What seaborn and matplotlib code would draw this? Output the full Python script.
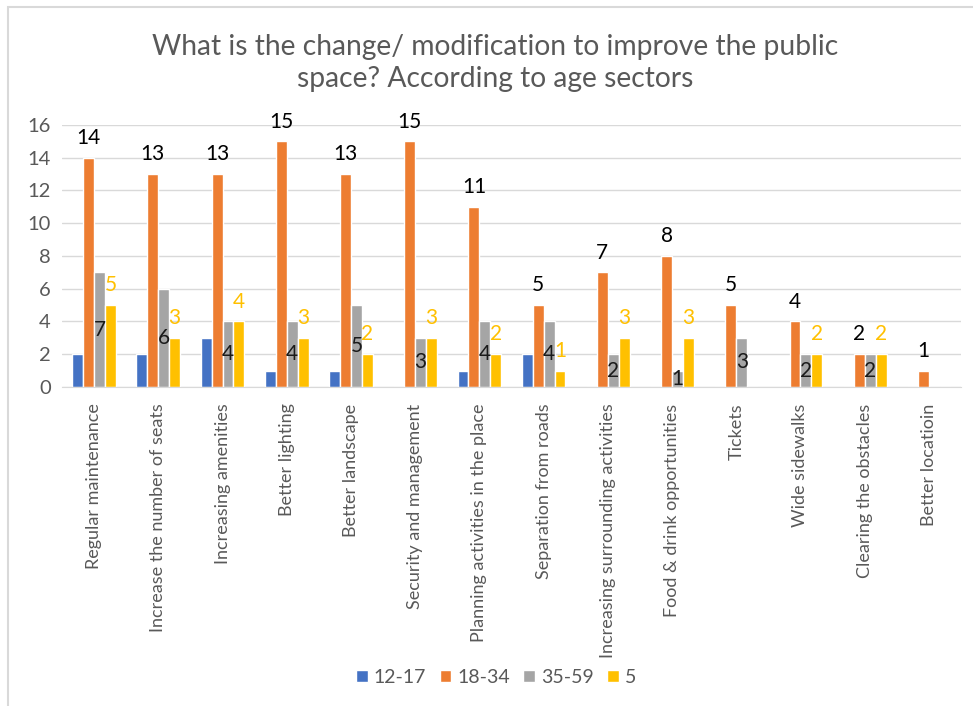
import pandas as pd
import matplotlib.pyplot as plt
import seaborn as sns

# Chart data
categories = ["Regular maintenance", "Increase the number of seats", "Increasing amenities",
              "Better lighting", "Better landscape", "Security and management",
              "Planning activities in the place", "Separation from roads",
              "Increasing surrounding activities", "Food & drink opportunities", "Tickets",
              "Wide sidewalks", "Clearing the obstacles", "Better locatioin"]
age_groups = ["12-17", "18-34", "35-59", "5"]
vals_12_17 = [2, 2, 3, 1, 1, 0, 1, 2, 0, 0, 0, 0, 0, 0]
vals_18_34 = [14, 13, 13, 15, 13, 15, 11, 5, 7, 8, 5, 4, 2, 1]
vals_35_59 = [7, 6, 4, 4, 5, 3, 4, 4, 2, 1, 3, 2, 2, 0]
vals_5 = [5, 3, 4, 3, 2, 3, 2, 1, 3, 3, 0, 2, 2, 0]

colors = ["#4472C4", "#ED7D31", "#A5A5A5", "#FFC000"]

# Long format table for seaborn
rows = []
for grp, vals in zip(age_groups, [vals_12_17, vals_18_34, vals_35_59, vals_5]):
    for cat, v in zip(categories, vals):
        rows.append({"category": cat, "age": grp, "value": v})
df = pd.DataFrame(rows)

sns.set_style("white")
plt.rcParams['font.family'] = ['Lato', 'DejaVu Sans']

fig = plt.figure(figsize=(9.73, 7.06), dpi=100)
ax = fig.add_axes([0.0637, 0.452, 0.924, 0.371])

sns.barplot(data=df, x="category", y="value", hue="age", order=categories,
            hue_order=age_groups, palette=colors, width=0.68, saturation=1,
            gap=0, ax=ax, errorbar=None)

# Data labels
for i, cont in enumerate(ax.containers):
    vals = [b.get_height() for b in cont]
    labels = [f"{v:.0f}" if v > 0 else "" for v in vals]
    if i == 1:
        ax.bar_label(cont, labels=labels, padding=7, fontsize=15, color="black")
    elif i == 2:
        ax.bar_label(cont, labels=labels, label_type="center", fontsize=15, color="#1a1a1a")
    elif i == 3:
        ax.bar_label(cont, labels=labels, padding=7, fontsize=15, color="#FFC000")

ax.set_ylim(0, 16)
ax.set_yticks(range(0, 17, 2))
ax.set_xlim(-0.5, len(categories) - 0.5)
ax.yaxis.grid(True, color="#D9D9D9", linewidth=1)
ax.set_axisbelow(True)
for s in ["top", "right", "left"]:
    ax.spines[s].set_visible(False)
ax.spines["bottom"].set_color("#D9D9D9")
ax.tick_params(axis="y", length=0, labelsize=14.5, labelcolor="#595959", pad=8)
ax.tick_params(axis="x", length=0, labelsize=13, labelcolor="#595959", pad=12)
plt.setp(ax.get_xticklabels(), rotation=90, ha="center", va="top")
ax.set_xlabel("")
ax.set_ylabel("")

fig.text(0.509, 0.911, "What is the change/ modification to improve the public\nspace? According to age sectors",
         ha="center", va="center", fontsize=20.3, color="#595959", linespacing=1.3)

sns.move_legend(ax, "center", bbox_to_anchor=(0.51, 0.041), bbox_transform=fig.transFigure,
                ncol=4, frameon=False, title=None, fontsize=14, handlelength=0.6,
                handleheight=0.6, handletextpad=0.3, columnspacing=0.7)
for t in ax.get_legend().get_texts():
    t.set_color("#595959")

# chart frame
fig.add_artist(plt.Rectangle((8 / 973, -0.1), 1.2, 1.1 - 7 / 706, transform=fig.transFigure,
                             fill=False, edgecolor="#D9D9D9", linewidth=1.5))

fig.savefig("out.png", dpi=100)
